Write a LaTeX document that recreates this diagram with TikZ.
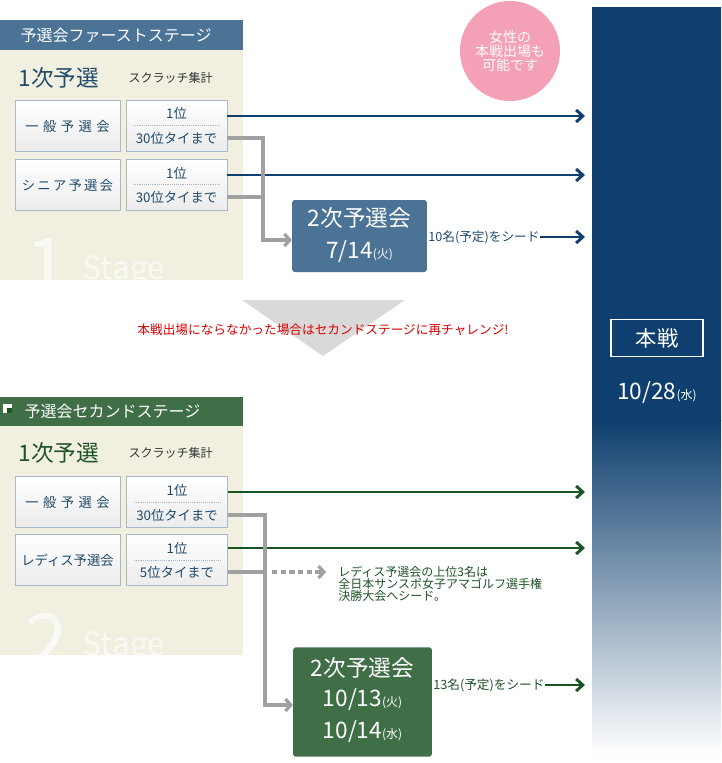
\documentclass[tikz,border=0pt]{standalone}
\usepackage{fontspec}
\setmainfont{Noto Sans CJK JP}
\newfontfamily\serifw{Liberation Serif}
\usetikzlibrary{arrows.meta,shapes.geometric}
\definecolor{hblue}{HTML}{4A7396}
\definecolor{dblue}{HTML}{0E3F6E}
\definecolor{tblue}{HTML}{1F4A6B}
\definecolor{beige}{HTML}{F1EFE0}
\definecolor{hgreen}{HTML}{3F6E47}
\definecolor{dgreen}{HTML}{1D5225}
\definecolor{lgray}{HTML}{A0A0A0}
\definecolor{pink}{HTML}{F4A0B6}
\definecolor{boxedge}{HTML}{A9B8C6}
\tikzset{x=0.75pt,y=-0.75pt,
 fs/.style={font=\fontsize{#1}{#1}\selectfont},
 selbox/.style={draw=boxedge,top color=white,bottom color=gray!15,minimum width=78.75pt,minimum height=38pt,inner sep=0pt,text=tblue},
 resbox/.style={draw=boxedge,top color=white,bottom color=gray!15,minimum width=76pt,minimum height=38pt,inner sep=0pt},
 bluearr/.style={draw=dblue,line width=2.2pt,-{Straight Barb[length=5pt,width=9pt]}},
 greenarr/.style={draw=dgreen,line width=2.2pt,-{Straight Barb[length=5pt,width=9pt]}},
 grayarr/.style={draw=lgray,line width=2.4pt,-{Straight Barb[length=4pt,width=9pt]}},
 hdr/.style={anchor=west,text=white,fs=12},
 wm/.style={text=white,opacity=0.6,font=\serifw\itshape}}
\begin{document}
\begin{tikzpicture}
\useasboundingbox (0,0) rectangle (721,763);
\fill[white] (0,0) rectangle (721,763);
% right bar
\shade[top color=dblue,bottom color=dblue] (592,8) rectangle (721,420);
\shade[top color=dblue,bottom color=white] (592,420) rectangle (721,755);
\node[draw=white,line width=1pt,minimum width=69pt,minimum height=28pt,text=white,fs=16] (honsen) at (657,338) {本戦};
\node[text=white,fs=17] (date) at (657,393) {10/28{\fontsize{9}{9}\selectfont(水)}};
% pink circle
\node[circle,fill=pink,minimum size=75pt,text=white,align=center,fs=10.5,inner sep=0pt] (pinkc) at (510,51) {女性の\\本戦出場も\\可能です};
% ===== Stage 1
\fill[beige] (0,20) rectangle (243,280);
\begin{scope}
\clip (0,20) rectangle (243,280);
\node[wm,fs=60,anchor=south west] (wm1) at (20,300) {1};
\node[wm,fs=24,anchor=south west] (wm1b) at (78,292) {Stage};
\end{scope}
\fill[hblue] (0,20) rectangle (243,50);
\node[hdr] (h1) at (16,35) {予選会ファーストステージ};
\node[anchor=west,text=tblue,fs=17] (s1) at (14,78) {1次予選};
\node[anchor=west,text=black!80,fs=9] (sc1) at (124,78) {スクラッチ集計};
\node[selbox] (a1) at (67.5,126) {一\,\,般\,\,予\,\,選\,\,会};
\node[resbox] (r1) at (176.5,126) {};
\draw[boxedge,densely dotted] (133,125) -- (220,125);
\node[text=tblue,fs=10] (r1a) at (176.5,113) {1位};
\node[text=tblue,fs=10] (r1b) at (176.5,138) {30位タイまで};
\node[selbox] (a2) at (67.5,185) {シ\,ニ\,ア\,予\,選\,会};
\node[resbox] (r2) at (176.5,185) {};
\draw[boxedge,densely dotted] (133,184) -- (220,184);
\node[text=tblue,fs=10] (r2a) at (176.5,173) {1位};
\node[text=tblue,fs=10] (r2b) at (176.5,197) {30位タイまで};
\draw[bluearr] (227,116) -- (585,116);
\draw[bluearr] (227,175) -- (585,175);
\node[fill=hblue,rounded corners=2pt,minimum width=101pt,minimum height=54pt,inner sep=0pt] (q1) at (359.5,236) {};
\node[text=white,fs=17] at (359.5,218) {2次予選会};
\node[text=white,fs=17] at (359.5,252) {7/14{\fontsize{9}{9}\selectfont(火)}};
\draw[lgray,line width=2.4pt] (227,138) -- (263,138) -- (263,197) -- (227,197);
\draw[grayarr] (263,138) -- (263,240) -- (q1.west|-0,240);
\node[anchor=west,text=tblue,fs=9.5,inner sep=0pt] (seed1) at (428,237) {10名(予定)をシード};
\draw[bluearr] (seed1.east) -- (585,237);
% middle chevron
\fill[gray!30] (242,300) -- (405,300) -- (323,356) -- cycle;
\node[text=red!85!black,fs=9.5] (msg) at (323,330) {本戦出場にならなかった場合はセカンドステージに再チャレンジ!};
% ===== Stage 2
\fill[beige] (0,397) rectangle (243,655);
\begin{scope}
\clip (0,397) rectangle (243,655);
\node[wm,fs=60,anchor=south west] (wm2) at (20,676) {2};
\node[wm,fs=24,anchor=south west] (wm2b) at (78,668) {Stage};
\end{scope}
\fill[hgreen] (0,397) rectangle (243,426);
\fill[white] (3,404) rectangle (12,413);
\fill[dgreen] (7,408) rectangle (12,413);
\node[hdr] (h2) at (20,411.5) {予選会セカンドステージ};
\node[anchor=west,text=dgreen,fs=17] (s2) at (14,453) {1次予選};
\node[anchor=west,text=black!80,fs=9] (sc2) at (124,453) {スクラッチ集計};
\node[selbox] (b1) at (67.5,502) {一\,\,般\,\,予\,\,選\,\,会};
\node[resbox] (t1) at (177,502) {};
\draw[boxedge,densely dotted] (134,502) -- (220,502);
\node[text=tblue,fs=10] at (177,490) {1位};
\node[text=tblue,fs=10] at (177,515) {30位タイまで};
\node[selbox] (b2) at (67.5,560) {レディス予選会};
\node[resbox] (t2) at (177,560) {};
\draw[boxedge,densely dotted] (134,560) -- (220,560);
\node[text=tblue,fs=10] at (177,548) {1位};
\node[text=tblue,fs=10] at (177,572) {5位タイまで};
\draw[greenarr] (228,492) -- (585,492);
\draw[greenarr] (228,548) -- (585,548);
\node[fill=hgreen,rounded corners=2pt,minimum width=104pt,minimum height=82pt,inner sep=0pt] (q2) at (362.5,702) {};
\node[text=white,fs=17] at (362.5,668) {2次予選会};
\node[text=white,fs=17] at (362.5,700) {10/13{\fontsize{9}{9}\selectfont(火)}};
\node[text=white,fs=17] at (362.5,732) {10/14{\fontsize{9}{9}\selectfont(水)}};
\draw[lgray,line width=2.4pt] (228,515) -- (265,515) -- (265,572) -- (228,572);
\draw[grayarr] (265,515) -- (265,705) -- (q2.west|-0,705);
\draw[lgray,line width=2.4pt,dash pattern=on 4pt off 2.5pt] (272,572) -- (322,572);
\draw[lgray,line width=2.4pt,-{Straight Barb[length=4pt,width=9pt]}] (322,572) -- (326,572);
\node[anchor=west,align=left,text=dgreen,fs=9,inner sep=0pt] (note) at (338,584) {レディス予選会の上位3名は\\全日本サンスポ女子アマゴルフ選手権\\決勝大会へシード。};
\node[anchor=west,text=dgreen,fs=9.5,inner sep=0pt] (seed2) at (433,685) {13名(予定)をシード};
\draw[greenarr] (seed2.east) -- (585,685);
\end{tikzpicture}
\end{document}
